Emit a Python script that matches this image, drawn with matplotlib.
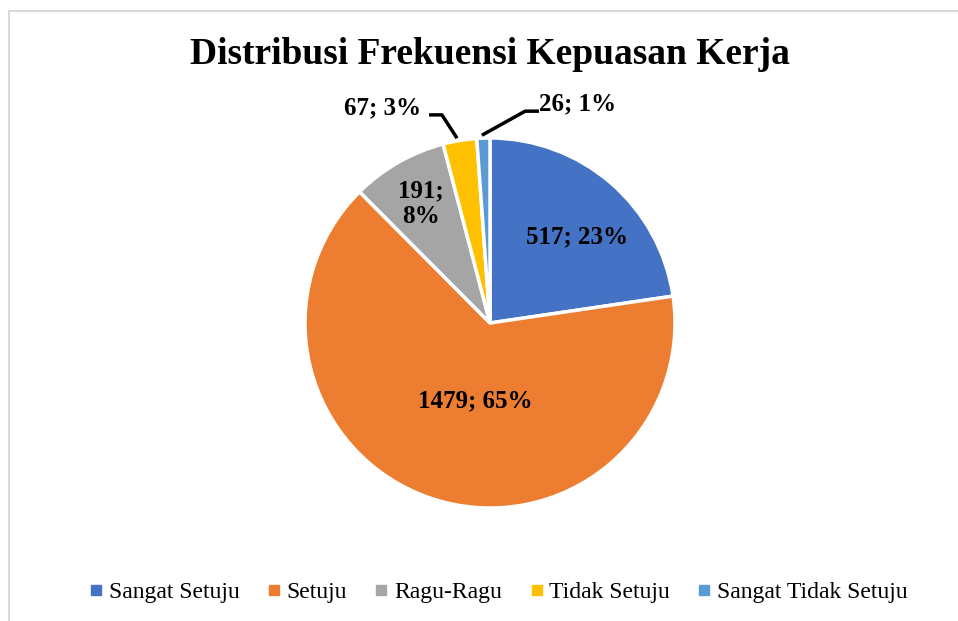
import matplotlib.pyplot as plt
from matplotlib.patches import Rectangle
from matplotlib.lines import Line2D
import numpy as np

# Data
kategori = ['Sangat Setuju', 'Setuju', 'Ragu-Ragu', 'Tidak Setuju', 'Sangat Tidak Setuju']
jumlah = [517, 1479, 191, 67, 26]
persen = ['23%', '65%', '8%', '3%', '1%']
warna = ['#4472C4', '#ED7D31', '#A5A5A5', '#FFC000', '#5B9BD5']

plt.rcParams['font.family'] = ['Liberation Serif', 'DejaVu Serif']

fig = plt.figure(figsize=(9.58, 6.21), dpi=100)
# frame of the cropped chart area (only top and left edges visible)
fig.patches.append(Rectangle((9 / 958, -20 / 621), 1000 / 958, 630 / 621, transform=fig.transFigure,
                             fill=False, edgecolor='#D9D9D9', linewidth=1.5))

# pie axes: centre (490, 323) px, radius 185 px
r = 185
ax = fig.add_axes([(490 - r) / 958, (621 - 323 - r) / 621, 2 * r / 958, 2 * r / 621])
wedges, _ = ax.pie(jumlah, colors=warna, startangle=90, counterclock=False, radius=1,
                   wedgeprops=dict(edgecolor='white', linewidth=2.5))
ax.set_xlim(-1, 1)
ax.set_ylim(-1, 1)
ax.set_aspect('auto')
ax.axis('off')

lbl = dict(fontsize=18, fontweight='bold', ha='center', va='center')

def mid(w):
    return np.deg2rad((w.theta1 + w.theta2) / 2)

# label di dalam irisan
ax.text(0.47, 0.465, f'{jumlah[0]}; {persen[0]}', **lbl)
ax.text(-0.08, -0.42, f'{jumlah[1]}; {persen[1]}', **lbl)
a = mid(wedges[2])
ax.text(0.73 * np.cos(a) - 0.01, 0.73 * np.sin(a) + 0.01, f'{jumlah[2]};\n{persen[2]}',
        linespacing=1.15, **lbl)

# callout
a = mid(wedges[3])
x0, y0 = np.cos(a), np.sin(a)
ax.plot([x0 - 0.02, -0.26, -0.32], [y0 + 0.02, 1.125, 1.125], color='black', lw=2.5, clip_on=False)
ax.text(-0.58, 1.165, f'{jumlah[3]}; {persen[3]}', **lbl)

a = mid(wedges[4])
x0, y0 = np.cos(a), np.sin(a)
ax.plot([x0 + 0.0, 0.19, 0.255], [y0 + 0.02, 1.145, 1.145], color='black', lw=2.5, clip_on=False)
ax.text(0.475, 1.185, f'{jumlah[4]}; {persen[4]}', **lbl)

fig.suptitle('Distribusi Frekuensi Kepuasan Kerja', x=490 / 958, y=1 - 54 / 621, va='center',
             fontsize=27, fontweight='bold')

handles = [Line2D([], [], marker='s', linestyle='none', markersize=7, color=c) for c in warna]
fig.legend(handles, kategori, loc='center', bbox_to_anchor=(496 / 958, 1 - 592 / 621), ncol=5,
           frameon=False, fontsize=17, handletextpad=0.05, columnspacing=0.95, handlelength=1.0)

plt.savefig('out.png', dpi=100)
